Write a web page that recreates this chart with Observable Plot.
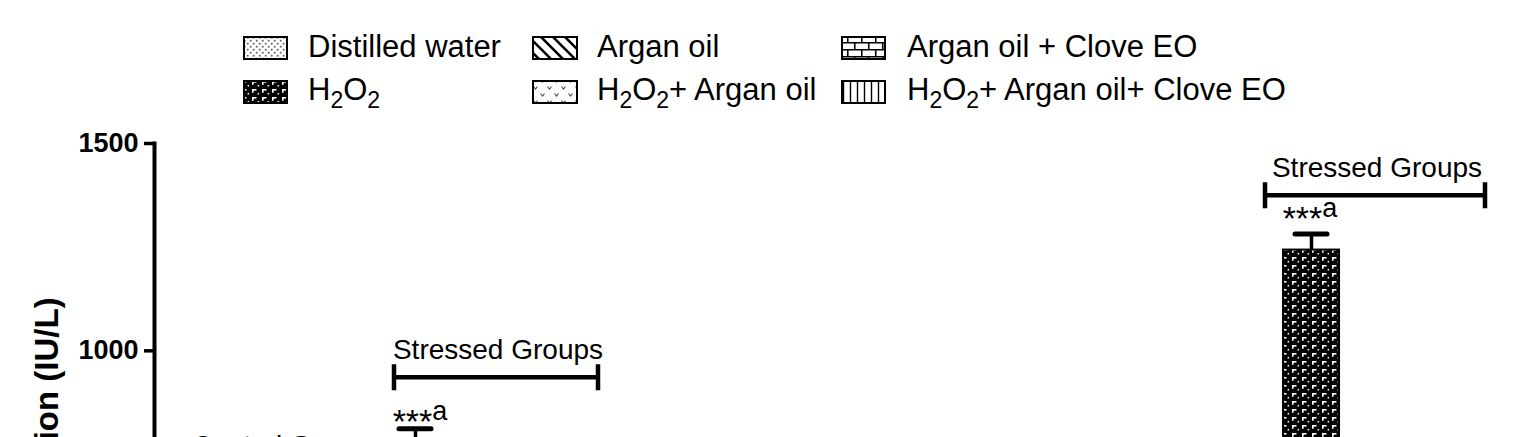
<!DOCTYPE html>
<html><head><meta charset="utf-8">
<script src="https://cdn.jsdelivr.net/npm/d3@7"></script>
<script src="https://cdn.jsdelivr.net/npm/@observablehq/plot@0.6"></script>
<style>
html,body{margin:0;padding:0;background:#fff;overflow:hidden}
svg{display:block}
</style></head><body>
<svg width="0" height="0" style="position:absolute">
<defs>
  <pattern id="p-dw" patternUnits="userSpaceOnUse" width="6" height="6">
    <rect width="6" height="6" fill="#fff"/>
    <rect x="0.8" y="0.8" width="1.8" height="1.8" fill="#666"/>
    <rect x="3.8" y="3.8" width="1.8" height="1.8" fill="#666"/>
  </pattern>
  <pattern id="p-ao" patternUnits="userSpaceOnUse" width="12" height="12">
    <rect width="12" height="12" fill="#fff"/>
    <path d="M-2,-2L14,14M-8,4L8,20M4,-8L20,8" stroke="#000" stroke-width="2.6"/>
  </pattern>
  <pattern id="p-aoc" patternUnits="userSpaceOnUse" width="28" height="14">
    <rect width="28" height="14" fill="#fff"/>
    <path d="M0,0.75H28M0,7.75H28M0.75,0V7M14.75,0V7M7.75,7V14M21.75,7V14" stroke="#000" stroke-width="1.6"/>
  </pattern>
  <pattern id="p-h2o2" patternUnits="userSpaceOnUse" width="10" height="8">
    <rect width="10" height="8" fill="#000"/>
    <rect x="2" y="1" width="4.5" height="1.6" fill="#fff"/>
    <rect x="2" y="1" width="1.6" height="3.8" fill="#fff"/>
    <rect x="7.6" y="5" width="1.5" height="1.5" fill="#fff"/>
  </pattern>
  <pattern id="p-h2o2ao" patternUnits="userSpaceOnUse" width="14" height="14">
    <rect width="14" height="14" fill="#fff"/>
    <path d="M1.5,2.5L3.5,5L5.5,2.5M8.5,9.5L10.5,12L12.5,9.5" fill="none" stroke="#444" stroke-width="1.1"/>
  </pattern>
  <pattern id="p-h2o2aoc" patternUnits="userSpaceOnUse" width="7" height="7">
    <rect width="7" height="7" fill="#fff"/>
    <path d="M3.5,0V7" stroke="#000" stroke-width="1.4"/>
  </pattern>
</defs>
</svg>
<div id="legend"></div>
<div id="chart"></div>
<script>
// ---------- data ----------
const parameters = ["P1", "P2", "P3"];
const groups = ["Distilled water", "Argan oil", "Argan oil + Clove EO",
                "H2O2", "H2O2+ Argan oil", "H2O2+ Argan oil+ Clove EO"];
const groupPattern = ["p-dw", "p-ao", "p-aoc", "p-h2o2", "p-h2o2ao", "p-h2o2aoc"];
// mean concentration (IU/L); null = bar lies below the cropped picture
const meanP1 = [null, null, null, 785, null, null];
const semP1  = [null, null, null, 27, null, null];
const meanP2 = [null, null, null, null, null, null];
const semP2  = [null, null, null, null, null, null];
const meanP3 = [null, null, null, 1243, null, null];
const semP3  = [null, null, null, 39, null, null];
const yTicks = [0, 500, 1000, 1500];
const yLabel = "Serum concentration (IU/L)";
// group brackets
const bracketText  = ["Control Groups", "Stressed Groups", "Stressed Groups"];
const bracketParam = ["P1", "P1", "P3"];
const bracketFirst = [0, 3, 3];
const bracketLast  = [2, 5, 5];
const bracketLevel = [703, 935, 1374];
// significance marks
const sigParam = ["P1", "P3"];
const sigGroup = [3, 3];
const sigLevel = [832, 1321];
const sigStars = ["***", "***"];
const sigLetter = ["a", "a"];

// ---------- table ----------
const means = [meanP1, meanP2, meanP3], sems = [semP1, semP2, semP3];
const slots = [];
const rows = [];
parameters.forEach((p, pi) => {
  if (pi > 0) slots.push("gap" + pi);
  groups.forEach((g, gi) => {
    const key = p + "|" + gi;
    slots.push(key);
    if (means[pi][gi] != null)
      rows.push({slot: key, value: means[pi][gi], sem: sems[pi][gi], fill: `url(#${groupPattern[gi]})`});
  });
});

const FONT = "'Liberation Sans', Arial, Helvetica, sans-serif";

// ---------- legend ----------
const LW = 1522, LH = 120;
const leg = d3.select("#legend").append("svg").attr("width", LW).attr("height", LH)
  .style("font-family", FONT);
const colSwatch = [244, 533, 842], colSwW = [43, 44, 43], colText = [308, 597, 907];
const rowSwatchY = [37, 81], rowBase = [57, 100];
groups.forEach((g, i) => {
  const c = i % 3, r = Math.floor(i / 3);
  leg.append("rect").attr("x", colSwatch[c]).attr("y", rowSwatchY[r])
    .attr("width", colSwW[c]).attr("height", 22)
    .attr("fill", `url(#${groupPattern[i]})`).attr("stroke", "#000").attr("stroke-width", 2);
  const t = leg.append("text").attr("x", colText[c]).attr("y", rowBase[r])
    .attr("font-size", 31).attr("fill", "#000");
  // render H2O2 with subscripts
  const parts = g.split(/(H2O2)/).filter(s => s.length);
  let pending = 0;
  parts.forEach(s => {
    if (s === "H2O2") {
      t.append("tspan").text("H");
      t.append("tspan").attr("font-size", 23).attr("dy", 8).text("2");
      t.append("tspan").attr("dy", -8).text("O");
      t.append("tspan").attr("font-size", 23).attr("dy", 8).text("2");
      pending = -8;
    } else {
      const sp = t.append("tspan").text(s);
      if (pending) { sp.attr("dy", pending); pending = 0; }
    }
  });
});

// ---------- chart ----------
const chart = Plot.plot({
  width: 1522, height: 700,
  marginLeft: 154, marginRight: 0, marginTop: 23, marginBottom: 55,
  x: {domain: slots, range: [190, 1472], paddingInner: 0.125, paddingOuter: 0.0625, axis: null},
  y: {domain: [0, 1500], label: null, axis: null},
  color: {type: "identity"},
  style: {fontFamily: FONT, background: "white", color: "black", overflow: "visible"},
  marks: [
    Plot.frame({anchor: "left", stroke: "#000", strokeWidth: 4}),
    Plot.axisY({ticks: yTicks, tickSize: 10, tickPadding: 6, strokeWidth: 3.5,
      fontSize: 27, fontWeight: "bold", label: null, tickFormat: d => String(d)}),
    Plot.barY(rows, {x: "slot", y: "value", fill: "fill", stroke: "#000", strokeWidth: 2}),
    Plot.ruleX(rows, {x: "slot", y1: "value", y2: d => d.value + d.sem, stroke: "#000", strokeWidth: 3.5}),
    Plot.tickY(rows, {x: "slot", y: d => d.value + d.sem, stroke: "#000", strokeWidth: 5,
      strokeLinecap: "round", insetLeft: 12, insetRight: 12})
  ]
});
document.getElementById("chart").appendChild(chart);

// ---------- annotations using the chart's scales ----------
const sx = chart.scale("x"), sy = chart.scale("y");
const bw = sx.bandwidth;
const svg = d3.select(chart);
const ann = svg.append("g").attr("font-family", FONT).attr("fill", "#000");
const overhang = [[-3, -1], [7, 27], [-18, 18]];
bracketText.forEach((txt, i) => {
  const x1 = sx.apply(bracketParam[i] + "|" + bracketFirst[i]) + overhang[i][0];
  const x2 = sx.apply(bracketParam[i] + "|" + bracketLast[i]) + bw + overhang[i][1];
  const y = sy.apply(bracketLevel[i]);
  ann.append("path").attr("d", `M${x1},${y}H${x2}M${x1},${y - 13}V${y + 13}M${x2},${y - 13}V${y + 13}`)
    .attr("stroke", "#000").attr("stroke-width", 4.5).attr("fill", "none");
  ann.append("text").attr("x", (x1 + x2) / 2 + 2).attr("y", y - 18)
    .attr("text-anchor", "middle").attr("font-size", 28).text(txt);
});
const sigDx = [5, -1];
sigParam.forEach((p, i) => {
  const cx = sx.apply(p + "|" + sigGroup[i]) + bw / 2;
  const y = sy.apply(sigLevel[i]);
  const t = ann.append("text").attr("x", cx + sigDx[i]).attr("y", y).attr("text-anchor", "middle");
  t.append("tspan").attr("font-size", 34).attr("dy", 13).text(sigStars[i]);
  t.append("tspan").attr("font-size", 27).attr("dy", -13).text(sigLetter[i]);
});
// y-axis title
const yx = 58, yy = sy.apply(1000) - 53;
ann.append("text").attr("x", yx).attr("y", yy)
  .attr("transform", `rotate(-90,${yx},${yy})`).attr("text-anchor", "end")
  .attr("font-size", 33).attr("font-weight", "bold").text(yLabel);
</script>
</body></html>
